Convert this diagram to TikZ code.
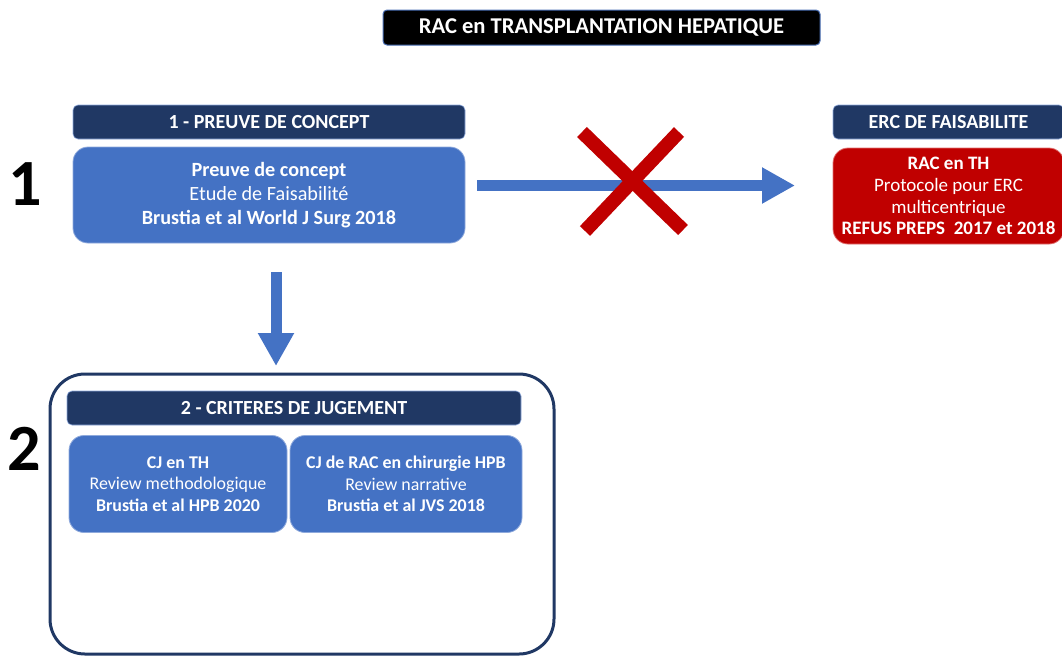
\documentclass[tikz,border=0pt]{standalone}
\usepackage{fontspec}
\setmainfont{Carlito}
\usetikzlibrary{arrows.meta}
\definecolor{navy}{HTML}{203864}
\definecolor{bblue}{HTML}{4472C4}
\definecolor{bedge}{HTML}{8FAADC}
\definecolor{dred}{HTML}{C00000}
\definecolor{redge}{HTML}{E07070}
\definecolor{tedge}{HTML}{4A6FB5}
\tikzset{
  hdr/.style={fill=navy, draw=bedge, line width=0.6pt, rounded corners=5pt, text=white, font=\bfseries\fontsize{20}{22}\selectfont, inner sep=0pt},
  bluebox/.style={fill=bblue, draw=bedge, line width=0.8pt, rounded corners=15pt, text=white, align=center, font=\fontsize{20.2}{24}\selectfont, inner sep=0pt},
  smallbox/.style={fill=bblue, draw=bedge, line width=0.8pt, rounded corners=15pt, text=white, align=center, font=\fontsize{17.9}{21.5}\selectfont, inner sep=0pt},
  redbox/.style={fill=dred, draw=redge, line width=0.8pt, rounded corners=15pt, text=white, align=center, font=\fontsize{19}{21.7}\selectfont, inner sep=0pt},
  bigarrow/.style={bblue, line width=11pt, -{Triangle[length=33pt,width=34pt]}},
  crossline/.style={dred, line width=14pt},
  bignum/.style={font=\bfseries\fontsize{66}{66}\selectfont, inner sep=0pt},
}
\begin{document}
\begin{tikzpicture}[x=1pt,y=-1pt]
\useasboundingbox (0,0) rectangle (1062,657);
% title
\node[fill=black, draw=tedge, line width=1pt, rounded corners=4pt, text=white,
      font=\bfseries\fontsize{22.6}{24}\selectfont, minimum width=437pt, minimum height=35pt, inner sep=0pt]
      (title) at (601.5,27.5) {RAC en TRANSPLANTATION HEPATIQUE};
% step 1
\node[bignum] (n1) at (25,184) {1};
\node[hdr, minimum width=392pt, minimum height=34pt] (h1) at (269,122) {1 - PREUVE DE CONCEPT};
\node[bluebox, minimum width=392pt, minimum height=96pt] (b1) at (269,195)
  {\textbf{Preuve de concept}\\Etude de Faisabilité\\\textbf{Brustia et al World J Surg 2018}};
% ERC
\node[hdr, minimum width=231pt, minimum height=34pt] (h3) at (948.5,122) {ERC DE FAISABILITE};
\node[redbox, minimum width=231pt, minimum height=96pt] (b3) at (948.5,196)
  {\textbf{RAC en TH}\\Protocole pour ERC\\multicentrique\\\textbf{REFUS PREPS\ \ 2017 et 2018}};
% horizontal arrow
\coordinate (aS) at (477,185.5);
\coordinate (aE) at (795,185.5);
\draw[bigarrow] (aS) -- (aE);
% red cross
\coordinate (x1) at (582,132);
\coordinate (x2) at (683,230);
\coordinate (x3) at (679,132);
\coordinate (x4) at (585,231);
\draw[crossline] (x1) -- (x2);
\draw[crossline] (x3) -- (x4);
% down arrow
\coordinate (dS) at (276,272);
\coordinate (dE) at (276,366);
\draw[bigarrow] (dS) -- (dE);
% step 2
\node[bignum] (n2) at (24,449) {2};
\draw[navy, line width=3pt, rounded corners=35pt] (50,374) rectangle (554,654);
\node[hdr, minimum width=454pt, minimum height=34pt] (h2) at (294,408) {2 - CRITERES DE JUGEMENT};
\node[smallbox, minimum width=218pt, minimum height=97pt] (c1) at (178,484)
  {\textbf{CJ en TH}\\Review methodologique\\\textbf{Brustia et al HPB 2020}};
\node[smallbox, minimum width=232pt, minimum height=97pt] (c2) at (406,484)
  {\textbf{CJ de RAC en chirurgie HPB}\\Review narrative\\\textbf{Brustia et al JVS 2018}};
\end{tikzpicture}
\end{document}
